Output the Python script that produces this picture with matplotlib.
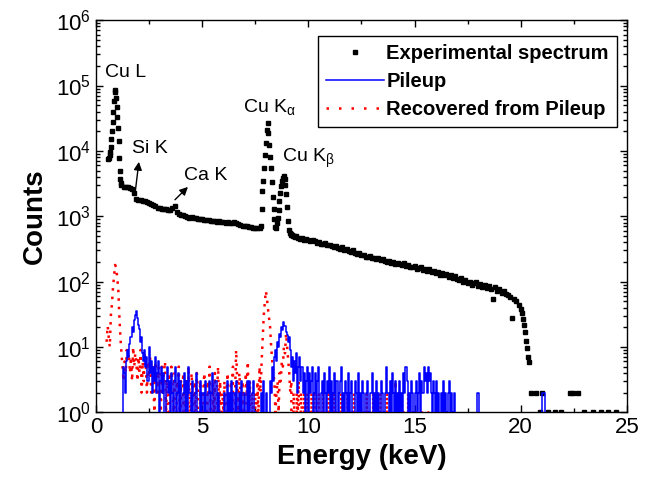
import numpy as np
import matplotlib
matplotlib.use("Agg")
import matplotlib.pyplot as plt
from matplotlib.lines import Line2D
from matplotlib.ticker import NullFormatter, LogLocator

# --- fonts ---
plt.rcParams['font.family'] = ['Liberation Sans', 'DejaVu Sans']
plt.rcParams['mathtext.fontset'] = 'custom'
plt.rcParams['mathtext.rm'] = 'Liberation Sans'
plt.rcParams['mathtext.it'] = 'Liberation Sans'
plt.rcParams['mathtext.bf'] = 'Liberation Sans:bold'

# --- experimental spectrum (counts), several channel segments ---
# Cu L peak, 0.58 keV onwards, 0.03 keV steps
exp_a_start, exp_a_step = 0.58, 0.03
exp_a = [7400, 7900, 8600, 9600, 11500, 15000, 20000, 28000, 40000, 58000,
         80000, 84000, 64000, 47000, 33000, 22000, 14000, 7800, 5000, 3700,
         3200]
# low energy continuum, 1.2 keV onwards, 0.1 keV steps
exp_b_start, exp_b_step = 1.2, 0.1
exp_b = [3000, 2850, 2800, 2760, 2720, 2650, 2250, 1850, 1800, 1780,
         1720, 1700, 1660, 1610, 1560, 1500, 1420, 1360, 1320, 1300,
         1290, 1270, 1260, 1250, 1330, 1420, 1180, 1090, 1060, 1030,
         1000, 970, 950, 960, 940, 925, 910, 900, 905, 890,
         875, 880, 860, 850, 845, 830, 835, 820, 810, 800,
         805, 790, 800, 830, 790, 760, 740, 720, 710, 700,
         690, 680, 670, 660, 650, 660]
# Cu K alpha / K beta, 7.76 keV onwards, 0.04 keV steps
exp_c_start, exp_c_step = 7.76, 0.04
exp_c = [700, 1300, 2400, 3500, 5500, 8500, 13000, 21000, 27000, 19000,
         12500, 8000, 5500, 3300, 2000, 1300, 900, 680, 650, 780,
         950, 1250, 1700, 2300, 2900, 3500, 3900, 4100, 3700, 3000,
         2200, 1400, 850, 620, 560, 540, 520, 510, 500, 490,
         480]
# high energy continuum, 9.4 keV onwards, 0.1 keV steps
exp_d_start, exp_d_step = 9.4, 0.1
exp_d = [500, 470, 448, 462, 430, 452, 440, 418, 430, 412,
         396, 410, 380, 372, 390, 358, 366, 350, 336, 352,
         330, 318, 334, 304, 312, 296, 282, 300, 276, 264,
         270, 252, 258, 240, 236, 250, 226, 232, 220, 226,
         212, 220, 206, 198, 210, 194, 200, 186, 192, 184,
         178, 190, 172, 180, 166, 170, 176, 158, 162, 166,
         150, 158, 146, 154, 138, 144, 134, 140, 128, 136,
         124, 130, 118, 126, 112, 120, 110, 104, 112, 98,
         104, 96, 100, 90, 94, 98, 86, 92, 84, 88,
         80, 86, 76, 54, 82, 72, 76, 68, 72, 64,
         62, 58, 28, 54, 50, 44, 38]
# cut-off, 20.05 keV onwards, 0.05 keV steps
exp_e_start, exp_e_step = 20.05, 0.05
exp_e = [33, 27, 22, 17, 12.5, 9.5, 7, 5.8]
# isolated channels above the cut-off
exp_tail_e = [20.5, 20.7, 21.0, 22.3, 22.45, 22.7,
              20.9, 21.3, 21.6, 21.9, 23.0, 23.4, 23.8, 24.1, 24.5]
exp_tail_c = [2, 2, 2, 2, 2, 2,
              1, 1, 1, 1, 1, 1, 1, 1, 1]

# --- pileup, 1.2 keV onwards, 0.05 keV steps ---
pile_start, pile_step = 1.2, 0.05
pile = [0, 0, 5, 4, 2, 6, 9, 7, 11, 14,
        20, 17, 26, 31, 35, 28, 22, 19, 12, 14,
        8, 6, 9, 5, 7, 3, 10, 4, 6, 2,
        5, 3, 7, 2, 4, 6, 1, 3, 5, 2,
        4, 0, 3, 5, 2, 3, 0, 4, 2, 1,
        3, 5, 0, 2, 4, 1, 3, 0, 2, 4,
        1, 3, 0, 5, 2, 2, 0, 3, 1, 0,
        2, 4, 0, 1, 3, 0, 2, 2, 0, 3,
        1, 0, 2, 3, 0, 2, 4, 0, 1, 3,
        0, 2, 0, 1, 0, 0, 0, 2, 0, 0,
        3, 0, 2, 1, 3, 0, 2, 0, 3, 1,
        0, 2, 0, 3, 1, 0, 2, 0, 0, 3,
        1, 3, 0, 2, 3, 0, 1, 0, 0, 0,
        0, 0, 2, 0, 3, 0, 0, 2, 0, 0,
        3, 2, 5, 3, 7, 9, 6, 12, 10, 16,
        14, 20, 18, 24, 21, 17, 15, 12, 14, 9,
        5, 7, 3, 6, 4, 8, 2, 5, 7, 3,
        5, 2, 4, 0, 3, 5, 1, 4, 2, 3,
        5, 0, 2, 4, 1, 3, 5, 0, 2, 3,
        1, 4, 2, 0, 3, 2, 5, 1, 3, 0,
        2, 4, 1, 3, 0, 2, 3, 5, 1, 2,
        0, 3, 2, 1, 4, 0, 2, 3, 1, 0,
        3, 2, 0, 4, 1, 2, 0, 3, 2, 1,
        0, 2, 3, 0, 1, 2, 4, 0, 2, 1,
        3, 0, 2, 1, 0, 3, 2, 0, 1, 2,
        5, 2, 0, 3, 1, 4, 2, 0, 3, 1,
        2, 0, 3, 1, 2, 0, 4, 2, 5, 3,
        1, 2, 0, 3, 2, 1, 0, 2, 3, 1,
        2, 4, 1, 3, 2, 5, 3, 4, 2, 5,
        3, 4, 2, 1, 3, 2, 0, 3, 1, 2,
        0, 2, 1, 3, 0, 2, 1, 0, 2, 3,
        0, 2, 1, 0, 2, 0]
pile_spike_e = [17.9, 17.95, 18.0, 18.05, 21.0, 21.05, 21.1, 21.15]
pile_spike_c = [0, 2, 2, 0, 0, 2, 2, 0]

# --- recovered from pileup, 0.5 keV onwards, 0.05 keV steps ---
rec_start, rec_step = 0.5, 0.05
rec = [12, 21, 14, 10, 30, 45, 80, 120, 180, 165,
       115, 75, 30, 14, 8, 5, 3, 6, 4, 9,
       6, 8, 4, 7, 3, 10, 5, 8, 6, 3,
       7, 4, 9, 2, 6, 3, 8, 5, 2, 6,
       4, 7, 2, 5, 3, 1, 6, 4, 2, 5,
       3, 1, 5, 2, 4, 6, 1, 3, 0, 4,
       2, 5, 3, 1, 4, 0, 3, 2, 5, 1,
       3, 0, 4, 2, 1, 3, 0, 5, 2, 1,
       4, 2, 0, 3, 1, 4, 2, 0, 3, 1,
       0, 2, 4, 1, 0, 3, 2, 5, 1, 0,
       3, 1, 4, 0, 2, 5, 1, 3, 0, 2,
       1, 3, 0, 2, 4, 1, 0, 3, 2, 5,
       0, 2, 9, 3, 1, 4, 2, 0, 3, 1,
       0, 4, 2, 6, 1, 3, 0, 2, 1, 0,
       2, 0, 3, 1, 5, 2, 6, 14, 30, 48,
       72, 55, 38, 28, 20, 10, 6, 4, 3, 1,
       2, 3, 1, 4, 3, 6, 5, 10, 8, 16,
       10, 6, 4, 2, 3, 0, 2, 1, 0, 2,
       1, 3, 0, 2, 1, 0, 2, 0, 1, 2,
       0, 1, 0, 2, 0, 1, 2, 0, 0, 1,
       2, 0, 1, 0, 2, 0, 0, 1, 0, 2,
       0, 1, 0, 0, 2, 0, 1, 0, 0, 1,
       0, 2, 0, 0, 1, 0, 0, 2, 0, 0,
       1, 0, 0, 2, 0, 0, 1, 0, 2, 0,
       0, 1, 0, 0, 0, 2, 0, 0, 1, 0,
       0, 2, 0, 0, 1, 0, 0, 0, 2, 0,
       0, 1, 0, 0, 2, 0, 0, 1, 0, 0,
       0, 0, 3, 0, 1, 0, 2, 0, 0, 0,
       1, 0, 0, 0, 2, 0, 0, 0, 1, 0,
       0, 0, 1, 0, 0, 0, 0, 1, 0, 0,
       0, 0, 0, 1, 0, 0, 0, 0, 0, 1]

y_ticks = [1, 10, 100, 1e3, 1e4, 1e5, 1e6]


def channels(start, step, values):
    return start + step * np.arange(len(values))


exp_x = np.concatenate([channels(exp_a_start, exp_a_step, exp_a),
                        channels(exp_b_start, exp_b_step, exp_b),
                        channels(exp_c_start, exp_c_step, exp_c),
                        channels(exp_d_start, exp_d_step, exp_d),
                        channels(exp_e_start, exp_e_step, exp_e),
                        exp_tail_e])
exp_y = np.concatenate([exp_a, exp_b, exp_c, exp_d, exp_e, exp_tail_c]).astype(float)

pile_x = channels(pile_start, pile_step, pile)
rec_x = channels(rec_start, rec_step, rec)

# --- plot ---
fig = plt.figure(figsize=(6.53, 4.8), dpi=100)
ax = fig.add_axes([0.147, 0.141, 0.813, 0.817])
ax.set_yscale('log')

blue = '#0000ff'
red = '#ff0000'
ax.plot(exp_x, exp_y, 's', color='black', ms=3.3, mec='black', zorder=3)
ax.plot(rec_x, np.array(rec, float), color=red, lw=1.8, ls=(0, (1, 2.4)),
        zorder=4)
ax.plot(pile_x, np.array(pile, float), '-', color=blue, lw=1.1,
        drawstyle='steps-mid', zorder=5)
ax.plot(pile_spike_e, np.array(pile_spike_c, float), '-', color=blue,
        lw=1.1, drawstyle='steps-mid', zorder=5)

ax.set_xlim(0, 25)
ax.set_ylim(1, 1e6)
ax.set_xticks([0, 5, 10, 15, 20, 25])
ax.set_xticks([2.5, 7.5, 12.5, 17.5, 22.5], minor=True)
ax.set_yticks(y_ticks)
ax.yaxis.set_minor_locator(LogLocator(base=10, subs=np.arange(2, 10)))
ax.yaxis.set_minor_formatter(NullFormatter())
ax.tick_params(which='both', direction='in', top=True, right=True,
               labelsize=16, width=1)
ax.tick_params(which='major', length=5)
ax.tick_params(which='minor', length=3)
for s in ax.spines.values():
    s.set_linewidth(1)

ax.set_xlabel('Energy (keV)', fontsize=20, fontweight='bold', labelpad=4)
ax.set_ylabel('Counts', fontsize=20, fontweight='bold', labelpad=6)

# peak labels
ax.text(0.42, 1.33e5, 'Cu L', fontsize=14, va='baseline')
ax.text(6.92, 3.98e4, r'Cu K$_{\alpha}$', fontsize=14, va='baseline')
ax.text(8.74, 6.84e3, r'Cu K$_{\beta}$', fontsize=14, va='baseline')
ax.text(1.71, 9.2e3, 'Si K', fontsize=14, va='baseline')
ax.text(4.14, 3.59e3, 'Ca K', fontsize=14, va='baseline')
arrow = dict(arrowstyle='-|>', color='black', lw=1, mutation_scale=12,
             shrinkA=0, shrinkB=0)
ax.annotate('', xy=(2.02, 6.8e3), xytext=(1.84, 2.24e3), arrowprops=arrow)
ax.annotate('', xy=(4.33, 2.81e3), xytext=(3.72, 1.79e3), arrowprops=arrow)

handles = [Line2D([], [], ls='none', marker='s', ms=3.2, color='black'),
           Line2D([], [], color=blue, lw=1.1),
           Line2D([], [], color=red, lw=1.8, ls=(0, (1, 4)))]
labels = ['Experimental spectrum', 'Pileup', 'Recovered from Pileup']
leg = ax.legend(handles, labels, loc='upper right',
                bbox_to_anchor=(0.981, 0.96),
                prop={'weight': 'bold', 'size': 14.5}, frameon=True,
                fancybox=False, edgecolor='black', framealpha=1,
                handlelength=2.9, handletextpad=0.1, borderpad=0.4,
                labelspacing=0.45, numpoints=1, borderaxespad=0)
leg.get_frame().set_linewidth(1)

fig.savefig('out.png', dpi=100)
